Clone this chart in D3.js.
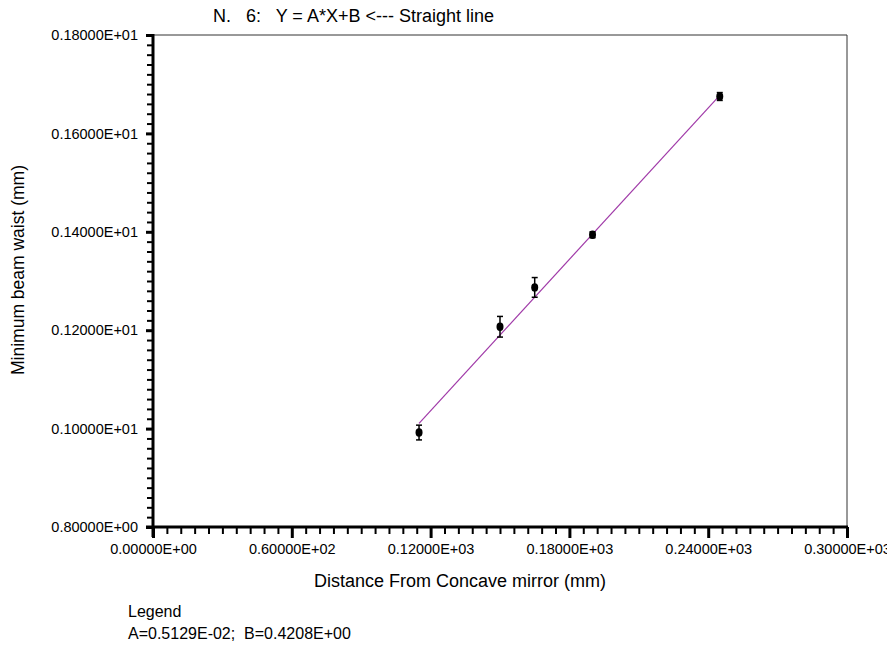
<!DOCTYPE html>
<html>
<head>
<meta charset="utf-8">
<script src="https://cdn.jsdelivr.net/npm/d3@7"></script>
<style>
  body { margin: 0; background: #fff; }
  svg { display: block; font-family: "Liberation Sans", Arial, sans-serif; }
</style>
</head>
<body>
<svg id="chart"></svg>
<script>
// measured points
const distance = [115, 150, 165, 190, 245];
const waist = [0.992, 1.207, 1.287, 1.394, 1.675];
const waistErr = [0.015, 0.021, 0.020, 0.006, 0.008];

// fit Y = A*X + B
const fitA = 0.005129;
const fitB = 0.4208;

const xMajor = [0, 60, 120, 180, 240, 300];
const yMajor = [0.8, 1.0, 1.2, 1.4, 1.6, 1.8];

const titleText = "N.   6:   Y = A*X+B <--- Straight line";
const xLabel = "Distance From Concave mirror (mm)";
const yLabel = "Minimum beam waist (mm)";
const legendLines = ["Legend", "A=0.5129E-02;  B=0.4208E+00"];

const width = 887, height = 646;
const svg = d3.select("#chart").attr("width", width).attr("height", height);

const pLeft = 153, pRight = 847, pTop = 35, pBottom = 527;
const x = d3.scaleLinear().domain([0, 300]).range([pLeft, pRight]);
const y = d3.scaleLinear().domain([0.8, 1.8]).range([pBottom, pTop]);

// 0.18000E+01 style
function fmtE(v) {
  if (v === 0) return "0.00000E+00";
  const e = Math.floor(Math.log10(Math.abs(v)) + 1e-9) + 1;
  const m = v / Math.pow(10, e);
  const s = e < 0 ? "-" : "+";
  return m.toFixed(5) + "E" + s + String(Math.abs(e)).padStart(2, "0");
}

const xMinor = d3.range(0, 301, 6).filter(v => v % 60 !== 0);
const yMinor = d3.range(0, 51).map(i => 0.8 + i * 0.02).filter((v, i) => i % 10 !== 0);

// frame: thin top/right
svg.append("line").attr("x1", pLeft).attr("x2", pRight).attr("y1", pTop).attr("y2", pTop)
  .attr("stroke", "#333").attr("stroke-width", 1);
svg.append("line").attr("x1", pRight).attr("x2", pRight).attr("y1", pTop).attr("y2", pBottom)
  .attr("stroke", "#333").attr("stroke-width", 1);

// y axis
const yMinorG = svg.append("g").attr("transform", `translate(${pLeft},0)`)
  .call(d3.axisLeft(y).tickValues(yMinor).tickSize(6).tickFormat(""));
yMinorG.selectAll(".tick line").attr("stroke", "#000").attr("stroke-width", 2);
const yMajorG = svg.append("g").attr("transform", `translate(${pLeft},0)`)
  .call(d3.axisLeft(y).tickValues(yMajor).tickSize(7).tickPadding(8).tickFormat(fmtE));
yMajorG.attr("font-size", 14.5).attr("font-family", null);
yMajorG.selectAll(".tick line").attr("stroke", "#000").attr("stroke-width", 3);
yMajorG.selectAll(".tick text").style("font-size", "14.5px").attr("fill", "#000");
svg.selectAll(".domain").remove();

// x axis
const xMinorG = svg.append("g").attr("transform", `translate(0,${pBottom})`)
  .call(d3.axisBottom(x).tickValues(xMinor).tickSize(7).tickFormat(""));
xMinorG.selectAll(".tick line").attr("stroke", "#000").attr("stroke-width", 2);
const xMajorG = svg.append("g").attr("transform", `translate(0,${pBottom})`)
  .call(d3.axisBottom(x).tickValues(xMajor).tickSize(11).tickPadding(6).tickFormat(fmtE));
xMajorG.attr("font-size", 14.5).attr("font-family", null);
xMajorG.selectAll(".tick line").attr("stroke", "#000").attr("stroke-width", 3);
xMajorG.selectAll(".tick text").style("font-size", "14.5px").attr("fill", "#000");
svg.selectAll(".domain").remove();

// thick axis lines
svg.append("line").attr("x1", pLeft).attr("x2", pLeft).attr("y1", pTop - 1).attr("y2", pBottom + 10)
  .attr("stroke", "#000").attr("stroke-width", 3);
svg.append("line").attr("x1", pLeft - 7).attr("x2", pRight + 1).attr("y1", pBottom).attr("y2", pBottom)
  .attr("stroke", "#000").attr("stroke-width", 3);

// fit line
const xMin = d3.min(distance), xMax = d3.max(distance);
svg.append("line")
  .attr("x1", x(xMin)).attr("y1", y(fitA * xMin + fitB))
  .attr("x2", x(xMax)).attr("y2", y(fitA * xMax + fitB))
  .attr("stroke", "#a03aa8").attr("stroke-width", 1.2);

// points with error bars
const pts = distance.map((d, i) => ({ d, w: waist[i], e: waistErr[i] }));
const g = svg.append("g");
pts.forEach(p => {
  const cx = x(p.d);
  g.append("line").attr("x1", cx).attr("x2", cx)
    .attr("y1", y(p.w + p.e)).attr("y2", y(p.w - p.e))
    .attr("stroke", "#000").attr("stroke-width", 1.5);
  [p.w + p.e, p.w - p.e].forEach(v => {
    g.append("line").attr("x1", cx - 3).attr("x2", cx + 3)
      .attr("y1", y(v)).attr("y2", y(v))
      .attr("stroke", "#000").attr("stroke-width", 1.5);
  });
  g.append("ellipse").attr("cx", cx).attr("cy", y(p.w))
    .attr("rx", 3.5).attr("ry", 4.2).attr("fill", "#000");
});

// title
svg.append("text").attr("x", 213).attr("y", 22)
  .style("font-size", "18px").style("white-space", "pre")
  .text(titleText);

// axis labels
svg.append("text").attr("x", 460).attr("y", 587)
  .attr("text-anchor", "middle").style("font-size", "18px").text(xLabel);
svg.append("text").attr("transform", "translate(24,270) rotate(-90)")
  .attr("text-anchor", "middle").style("font-size", "17.5px").text(yLabel);

// legend
legendLines.forEach((t, i) => {
  svg.append("text").attr("x", 128).attr("y", 617 + i * 22)
    .style("font-size", "16px").style("white-space", "pre").text(t);
});
</script>
</body>
</html>
